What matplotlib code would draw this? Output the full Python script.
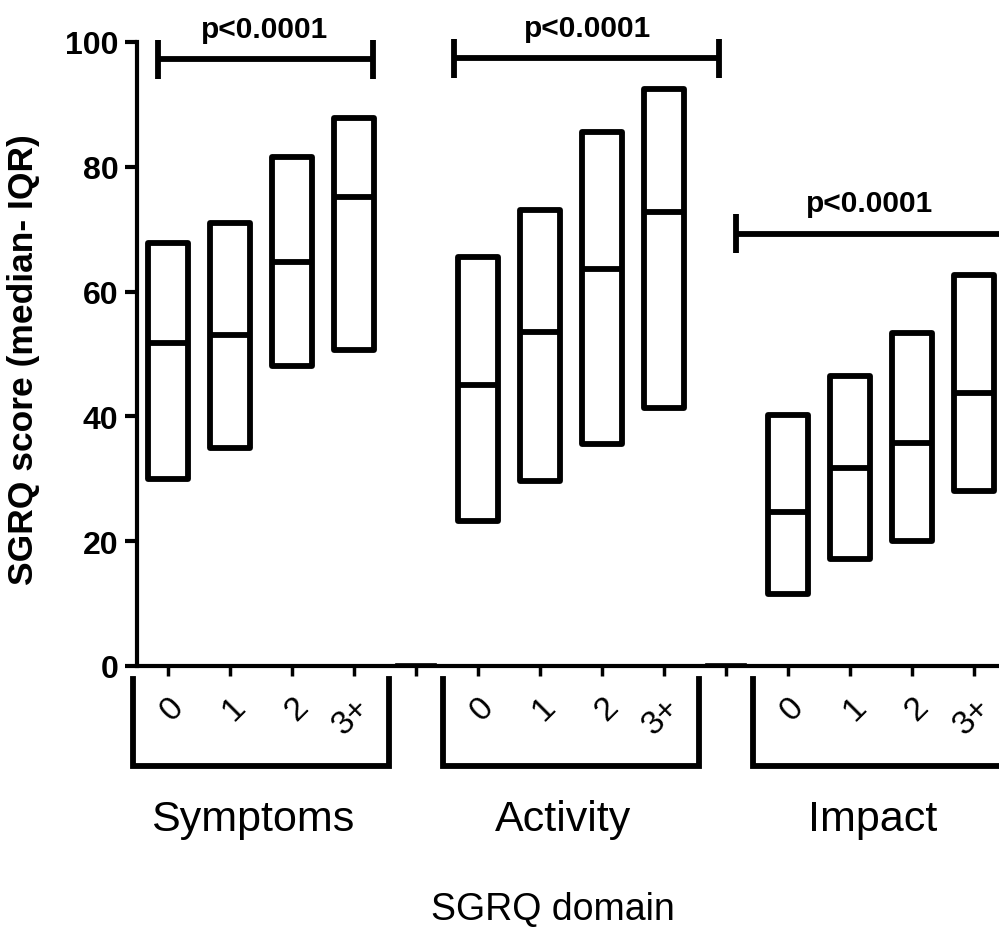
import numpy as np
import matplotlib
matplotlib.use("Agg")
import matplotlib.pyplot as plt
from matplotlib.transforms import blended_transform_factory

plt.rcParams["font.family"] = ["Liberation Sans", "DejaVu Sans"]

domains = ["Symptoms", "Activity", "Impact"]
exac_labels = ["0", "1", "2", "3+"]

# SGRQ score: lower quartile, median, upper quartile per exacerbation group
symptoms_q1 = [29.9, 35.0, 48.0, 50.7]
symptoms_med = [51.7, 53.1, 64.8, 75.2]
symptoms_q3 = [67.8, 71.0, 81.6, 87.8]

activity_q1 = [23.2, 29.6, 35.5, 41.4]
activity_med = [45.0, 53.6, 63.7, 72.8]
activity_q3 = [65.6, 73.0, 85.6, 92.5]

impact_q1 = [11.5, 17.1, 20.0, 28.0]
impact_med = [24.6, 31.7, 35.8, 43.7]
impact_q3 = [40.3, 46.4, 53.3, 62.7]

p_values = ["p<0.0001", "p<0.0001", "p<0.0001"]

q1_all = [symptoms_q1, activity_q1, impact_q1]
med_all = [symptoms_med, activity_med, impact_med]
q3_all = [symptoms_q3, activity_q3, impact_q3]

# layout of the significance brackets (x span in category units, y height)
bracket_x = [(0.84, 4.31), (5.61, 9.89), (10.16, 15.0)]
bracket_y = [97.2, 97.4, 69.3]
text_x = [2.56, 7.76, 12.32]

fig = plt.figure(figsize=(9.99, 9.29), dpi=100)
ax = fig.add_axes([137 / 999, 1 - 667 / 929, 1 - 137 / 999, 624 / 929])

lw = 4.2
box_w = 0.65
tick_pos = []
tick_lab = []
for g in range(3):
    pos = g * 5 + 1 + np.arange(4)
    q1 = np.array(q1_all[g])
    q3 = np.array(q3_all[g])
    bars = ax.bar(pos, q3 - q1, bottom=q1, width=box_w, fill=False,
                  edgecolor="black", linewidth=lw, clip_on=False)
    for b in bars:
        b.set_joinstyle("round")
    ax.hlines(med_all[g], pos - box_w / 2, pos + box_w / 2, color="black",
              linewidth=lw, clip_on=False)
    tick_pos += list(pos)
    tick_lab += exac_labels
    if g < 2:
        # empty spacer column between domains
        ax.bar(pos[-1] + 1, 0.35, width=box_w, fill=False, edgecolor="black",
               linewidth=1.2, clip_on=False)
        tick_pos.append(pos[-1] + 1)
        tick_lab.append("")

# p-value brackets
cap = 3.1
for (x0, x1), y, tx, p in zip(bracket_x, bracket_y, text_x, p_values):
    ax.plot([x0, x1], [y, y], color="black", lw=lw, clip_on=False,
            solid_capstyle="butt")
    for xc in (x0, x1):
        ax.plot([xc, xc], [y - cap, y + cap], color="black", lw=lw,
                clip_on=False, solid_capstyle="butt")
    ax.text(tx, y + 2.6, p, ha="center", va="bottom", fontsize=21.5,
            fontweight="bold")

# group brackets under the x axis
trans = blended_transform_factory(ax.transData, ax.transAxes)
for g, name in enumerate(domains):
    c = g * 5 + 2.5
    x0, x1 = c - 2.07, c + 2.07
    top, bot = -0.021, -0.160
    ax.plot([x0, x0, x1, x1], [top, bot, bot, top], color="black", lw=lw,
            transform=trans, clip_on=False, solid_joinstyle="miter")
    ax.text(c - 0.13, -0.245, name, transform=trans, ha="center", va="center",
            fontsize=31)

fig.text(553 / 999, 1 - 910 / 929, "SGRQ domain", ha="center", va="center",
         fontsize=27)

ax.set_xlim(0.5, 14.4)
ax.set_ylim(0, 100)
ax.set_yticks([0, 20, 40, 60, 80, 100])
ax.set_xticks(tick_pos)
ax.set_xticklabels(tick_lab, fontsize=24, rotation=45, ha="right",
                   rotation_mode="anchor")
for t in ax.get_yticklabels():
    t.set_fontweight("bold")
    t.set_fontsize(23)
ax.tick_params(axis="y", direction="out", length=8.5, width=3, pad=5)
ax.tick_params(axis="x", direction="out", length=7, width=2.5, pad=11)

for s in ["top", "right"]:
    ax.spines[s].set_visible(False)
for s in ["left", "bottom"]:
    ax.spines[s].set_linewidth(3)
ax.spines["bottom"].set_capstyle("butt")

ax.set_ylabel("SGRQ score (median- IQR)", fontsize=25.5, fontweight="bold")
ax.yaxis.set_label_coords(-(137 - 40) / 862, (667 - 360) / 624)

fig.savefig("out.png", dpi=100)
